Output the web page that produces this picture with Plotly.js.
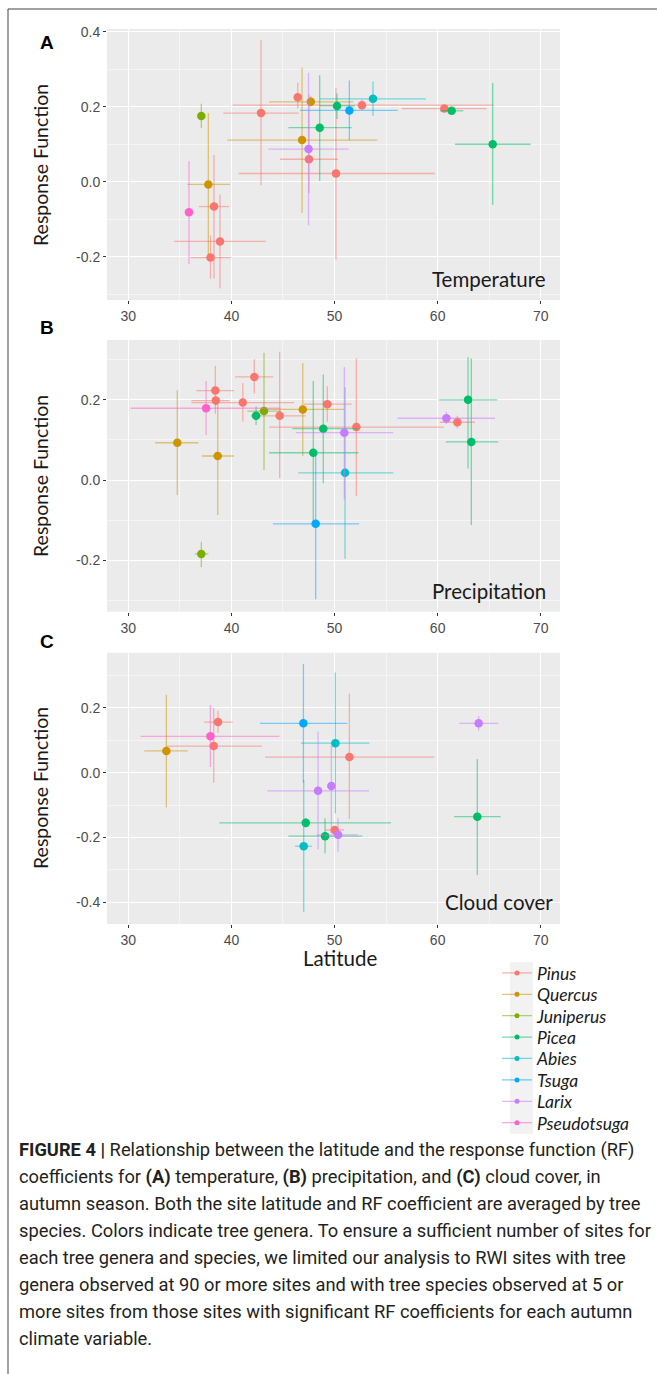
<!DOCTYPE html>
<html>
<head>
<meta charset="utf-8">
<script src="https://cdn.plot.ly/plotly-3.0.1.min.js"></script>
<style>
  html, body { margin: 0; padding: 0; background: #ffffff; }
  #chart { width: 657px; height: 1374px; }
</style>
</head>
<body>
<div id="chart"></div>
<script>
// ---------- DATA ----------
const genera = ['Pinus', 'Quercus', 'Juniperus', 'Picea', 'Abies', 'Tsuga', 'Larix', 'Pseudotsuga'];

// Panel A: Temperature
const tempGenus = ['Pseudotsuga','Juniperus','Quercus','Pinus','Pinus','Pinus','Pinus','Pinus','Quercus','Quercus','Larix','Pinus','Pinus','Picea','Picea','Tsuga','Abies','Pinus','Pinus','Picea','Picea'];
const tempLat   = [35.88, 37.08, 37.76, 38.31, 38.89, 37.97, 42.87, 46.43, 47.70, 46.85, 47.48, 47.52, 50.14, 48.56, 50.24, 51.44, 53.73, 52.66, 60.65, 61.36, 65.34];
const tempLatLo = [35.88, 37.08, 35.72, 36.85, 34.45, 36.05, 39.21, 46.43, 43.65, 39.60, 43.58, 44.71, 40.70, 45.52, 48.59, 46.65, 48.59, 40.12, 56.51, 60.23, 61.68];
const tempLatHi = [35.88, 37.08, 39.86, 39.77, 43.32, 39.91, 46.52, 46.43, 51.82, 54.15, 51.36, 50.34, 59.71, 51.66, 51.98, 56.12, 58.87, 65.40, 64.76, 62.49, 69.02];
const tempRF    = [-0.081, 0.175, -0.007, -0.066, -0.159, -0.202, 0.183, 0.225, 0.213, 0.111, 0.087, 0.060, 0.022, 0.144, 0.202, 0.190, 0.221, 0.204, 0.195, 0.189, 0.100];
const tempRFLo  = [-0.219, 0.143, -0.195, -0.258, -0.284, -0.258, -0.009, 0.195, 0.200, -0.083, -0.116, -0.030, -0.208, 0.002, 0.167, 0.110, 0.176, 0.192, 0.188, 0.183, -0.061];
const tempRFHi  = [0.055, 0.208, 0.183, 0.071, -0.034, -0.143, 0.378, 0.264, 0.228, 0.304, 0.290, 0.232, 0.250, 0.284, 0.235, 0.270, 0.267, 0.219, 0.200, 0.195, 0.263];

// Panel B: Precipitation
const precGenus = ['Pseudotsuga','Pinus','Pinus','Pinus','Pinus','Quercus','Quercus','Picea','Juniperus','Pinus','Quercus','Pinus','Picea','Larix','Pinus','Picea','Abies','Tsuga','Larix','Pinus','Picea','Picea','Juniperus'];
const precLat   = [37.54, 38.44, 38.48, 41.10, 42.22, 34.75, 38.67, 42.39, 43.16, 44.68, 46.92, 49.30, 48.91, 50.95, 52.12, 47.94, 51.02, 48.17, 60.85, 61.91, 62.95, 63.27, 37.08];
const precLatLo = [30.23, 36.60, 36.11, 36.11, 40.35, 32.59, 37.12, 41.90, 41.54, 42.68, 43.00, 47.04, 45.91, 46.24, 43.65, 43.65, 46.49, 44.03, 56.09, 60.20, 60.14, 60.78, 36.44];
const precLatHi = [44.78, 40.25, 39.83, 46.07, 44.06, 36.79, 40.25, 42.80, 44.80, 47.20, 50.92, 51.67, 52.21, 55.70, 60.62, 52.31, 55.70, 52.38, 65.57, 63.63, 65.79, 65.89, 37.76];
const precRF    = [0.179, 0.223, 0.198, 0.193, 0.257, 0.093, 0.060, 0.160, 0.172, 0.160, 0.176, 0.189, 0.128, 0.118, 0.132, 0.068, 0.018, -0.109, 0.154, 0.144, 0.200, 0.095, -0.184];
const precRFLo  = [0.112, 0.165, 0.185, 0.145, 0.216, -0.037, -0.087, 0.137, 0.025, 0.005, 0.060, 0.145, -0.008, -0.048, -0.040, -0.110, -0.196, -0.297, 0.140, 0.129, 0.029, -0.112, -0.217];
const precRFHi  = [0.247, 0.284, 0.210, 0.241, 0.301, 0.224, 0.190, 0.183, 0.317, 0.320, 0.292, 0.234, 0.263, 0.282, 0.303, 0.247, 0.231, 0.075, 0.170, 0.160, 0.306, 0.303, -0.154];

// Panel C: Cloud cover
const cldGenus = ['Quercus','Pseudotsuga','Pinus','Pinus','Tsuga','Abies','Pinus','Larix','Larix','Picea','Pinus','Picea','Larix','Abies','Larix','Picea'];
const cldLat   = [33.69, 37.96, 38.28, 38.70, 46.98, 50.08, 51.44, 48.40, 49.69, 47.21, 50.02, 49.08, 50.34, 47.01, 63.98, 63.85];
const cldLatLo = [31.55, 31.20, 33.72, 37.34, 42.77, 46.75, 43.26, 43.48, 49.69, 38.83, 49.08, 45.52, 48.27, 46.17, 62.10, 61.59];
const cldLatHi = [35.76, 44.65, 42.94, 40.13, 51.24, 53.38, 59.68, 53.35, 49.69, 55.48, 50.92, 52.70, 52.25, 47.79, 65.89, 66.12];
const cldRF    = [0.067, 0.112, 0.082, 0.156, 0.152, 0.091, 0.048, -0.056, -0.041, -0.155, -0.177, -0.196, -0.192, -0.227, 0.152, -0.136];
const cldRFLo  = [-0.107, 0.017, -0.031, 0.123, -0.031, -0.126, -0.143, -0.236, -0.186, -0.170, -0.185, -0.249, -0.244, -0.429, 0.130, -0.316];
const cldRFHi  = [0.240, 0.209, 0.199, 0.191, 0.335, 0.309, 0.243, 0.127, 0.085, -0.140, -0.170, -0.141, -0.141, -0.023, 0.175, 0.042];

const xTickVals = [30, 40, 50, 60, 70];
const yTickValsA = [-0.2, 0.0, 0.2, 0.4];
const yTickTextA = ['-0.2', '0.0', '0.2', '0.4'];
const yTickValsB = [-0.2, 0.0, 0.2];
const yTickTextB = ['-0.2', '0.0', '0.2'];
const yTickValsC = [-0.4, -0.2, 0.0, 0.2];
const yTickTextC = ['-0.4', '-0.2', '0.0', '0.2'];
const panelNames = ['Temperature', 'Precipitation', 'Cloud cover'];
const captionLines = [
  '<b>FIGURE 4 |</b> Relationship between the latitude and the response function (RF)',
  'coefficients for <b>(A)</b> temperature, <b>(B)</b> precipitation, and <b>(C)</b> cloud cover, in',
  'autumn season. Both the site latitude and RF coefficient are averaged by tree',
  'species. Colors indicate tree genera. To ensure a sufficient number of sites for',
  'each tree genera and species, we limited our analysis to RWI sites with tree',
  'genera observed at 90 or more sites and with tree species observed at 5 or',
  'more sites from those sites with significant RF coefficients for each autumn',
  'climate variable.'
];

// ---------- STYLE ----------
const colors = ['#F8766D', '#CD9600', '#7CAE00', '#00BE67', '#00BFC4', '#00A9FF', '#C77CFF', '#FF61CC'];
function rgba(hex, a) {
  const r = parseInt(hex.slice(1, 3), 16), g = parseInt(hex.slice(3, 5), 16), b = parseInt(hex.slice(5, 7), 16);
  return `rgba(${r},${g},${b},${a})`;
}
const W = 657, H = 1374;
const px = v => v / W;
const py = v => 1 - v / H;

const traces = [];
function addPanel(gen, lat, latLo, latHi, rf, rfLo, rfHi, xa, ya) {
  genera.forEach((g, gi) => {
    const idx = [];
    gen.forEach((v, i) => { if (v === g) idx.push(i); });
    if (!idx.length) return;
    traces.push({
      type: 'scatter', mode: 'markers', xaxis: xa, yaxis: ya, showlegend: false,
      name: g, x: idx.map(i => lat[i]), y: idx.map(i => rf[i]),
      marker: { color: colors[gi], size: 8.5 },
      error_x: { type: 'data', symmetric: false,
        array: idx.map(i => latHi[i] - lat[i]), arrayminus: idx.map(i => lat[i] - latLo[i]),
        width: 0, thickness: 1.3, color: rgba(colors[gi], 0.5) },
      error_y: { type: 'data', symmetric: false,
        array: idx.map(i => rfHi[i] - rf[i]), arrayminus: idx.map(i => rf[i] - rfLo[i]),
        width: 0, thickness: 1.3, color: rgba(colors[gi], 0.5) }
    });
  });
}
addPanel(tempGenus, tempLat, tempLatLo, tempLatHi, tempRF, tempRFLo, tempRFHi, 'x', 'y');
addPanel(precGenus, precLat, precLatLo, precLatHi, precRF, precRFLo, precRFHi, 'x2', 'y2');
addPanel(cldGenus, cldLat, cldLatLo, cldLatHi, cldRF, cldRFLo, cldRFHi, 'x3', 'y3');

// legend entries: one legend box per genus, so the spacing can follow the reference
const legendFont = { family: 'Lato, Open Sans, sans-serif', size: 17.5, color: '#1A1A1A' };
const legends = {};
genera.forEach((g, gi) => {
  const key = gi === 0 ? 'legend' : 'legend' + (gi + 1);
  traces.push({
    type: 'scatter', mode: 'lines+markers', xaxis: 'x3', yaxis: 'y3',
    x: [null], y: [null], name: '<i>' + g + '</i>', showlegend: true, legend: key,
    line: { color: rgba(colors[gi], 0.55), width: 1.3 },
    marker: { color: colors[gi], size: 5 }
  });
  legends[key] = { x: px(497), y: py(973 + 21.4 * gi), xanchor: 'left', yanchor: 'middle',
    bgcolor: 'rgba(0,0,0,0)', font: legendFont, itemwidth: 30, borderwidth: 0 };
});

const xDomain = [px(107), px(560)];
const tickFont = { family: 'Liberation Sans, Arial, sans-serif', size: 14, color: '#4D4D4D' };
function xAxis(anchor) {
  return {
    domain: xDomain, anchor: anchor, range: [27.93, 71.87],
    tickmode: 'array', tickvals: xTickVals, ticktext: xTickVals.map(String),
    ticks: 'outside', ticklen: 3, tickcolor: '#333333', tickwidth: 1,
    showgrid: true, gridcolor: '#FFFFFF', gridwidth: 1.1,
    minor: { tickmode: 'linear', tick0: 25, dtick: 10, showgrid: true, gridcolor: '#FFFFFF', gridwidth: 0.5, ticks: '' },
    zeroline: false, showline: false, tickfont: tickFont, fixedrange: true
  };
}
function yAxis(anchor, dom, range, tv, tt) {
  return {
    domain: dom, anchor: anchor, range: range,
    tickmode: 'array', tickvals: tv, ticktext: tt,
    ticks: 'outside', ticklen: 3, tickcolor: '#333333', tickwidth: 1,
    showgrid: true, gridcolor: '#FFFFFF', gridwidth: 1.1,
    minor: { tickmode: 'linear', tick0: -0.3, dtick: 0.2, showgrid: true, gridcolor: '#FFFFFF', gridwidth: 0.5, ticks: '' },
    zeroline: false, showline: false, tickfont: tickFont, fixedrange: true
  };
}

const titleFont = { family: 'Lato, Open Sans, sans-serif', size: 19.5, color: '#1A1A1A' };
const panelFont = { family: 'Lato, Open Sans, sans-serif', size: 20.5, color: '#1A1A1A' };
const annotations = [];
[['A', 43], ['B', 327], ['C', 641]].forEach(([t, y]) => {
  annotations.push({ xref: 'paper', yref: 'paper', x: px(47), y: py(y), text: '<b>' + t + '</b>', showarrow: false,
    xanchor: 'center', yanchor: 'middle', font: { family: 'Liberation Sans, Arial, sans-serif', size: 19, color: '#000000' } });
});
[165, 476, 788].forEach(yc => {
  annotations.push({ xref: 'paper', yref: 'paper', x: px(40), y: py(yc), text: 'Response Function', textangle: -90,
    showarrow: false, xanchor: 'center', yanchor: 'middle', font: titleFont });
});
[[panelNames[0], 279, 548], [panelNames[1], 591, 548], [panelNames[2], 902, 555]].forEach(([t, y, xr]) => {
  annotations.push({ xref: 'paper', yref: 'paper', x: px(xr), y: py(y), text: t, showarrow: false,
    xanchor: 'right', yanchor: 'middle', font: panelFont });
});
annotations.push({ xref: 'paper', yref: 'paper', x: px(340), y: py(958), text: 'Latitude', showarrow: false,
  xanchor: 'center', yanchor: 'middle', font: panelFont });
captionLines.forEach((t, i) => {
  annotations.push({ xref: 'paper', yref: 'paper', x: px(17), y: py(1150 + 26.9 * i), text: t, showarrow: false,
    xanchor: 'left', yanchor: 'middle', align: 'left',
    font: { family: 'Roboto, Liberation Sans, sans-serif', size: 18.3, color: '#231F20' } });
});

const shapes = [
  { type: 'line', xref: 'paper', yref: 'paper', x0: px(8), x1: 1, y0: py(9), y1: py(9), line: { color: '#444', width: 1 } },
  { type: 'line', xref: 'paper', yref: 'paper', x0: px(8), x1: px(8), y0: py(9), y1: 0, line: { color: '#444', width: 1 } },
  { type: 'rect', xref: 'paper', yref: 'paper', x0: px(510), x1: px(533), y0: py(1134), y1: py(962), fillcolor: '#F2F2F2', line: { width: 0 }, layer: 'below' }
];

const layout = Object.assign({
  width: W, height: H,
  margin: { l: 0, r: 0, t: 0, b: 0 },
  paper_bgcolor: '#FFFFFF', plot_bgcolor: '#EBEBEB',
  showlegend: true,
  xaxis: xAxis('y'), xaxis2: xAxis('y2'), xaxis3: xAxis('y3'),
  yaxis: yAxis('x', [py(300), py(29)], [-0.315, 0.407], yTickValsA, yTickTextA),
  yaxis2: yAxis('x2', [py(611.7), py(340)], [-0.328, 0.349], yTickValsB, yTickTextB),
  yaxis3: yAxis('x3', [py(924), py(652.7)], [-0.467, 0.370], yTickValsC, yTickTextC),
  annotations: annotations,
  shapes: shapes
}, legends);

Plotly.newPlot('chart', traces, layout, { displayModeBar: false, staticPlot: true });
</script>
</body>
</html>
